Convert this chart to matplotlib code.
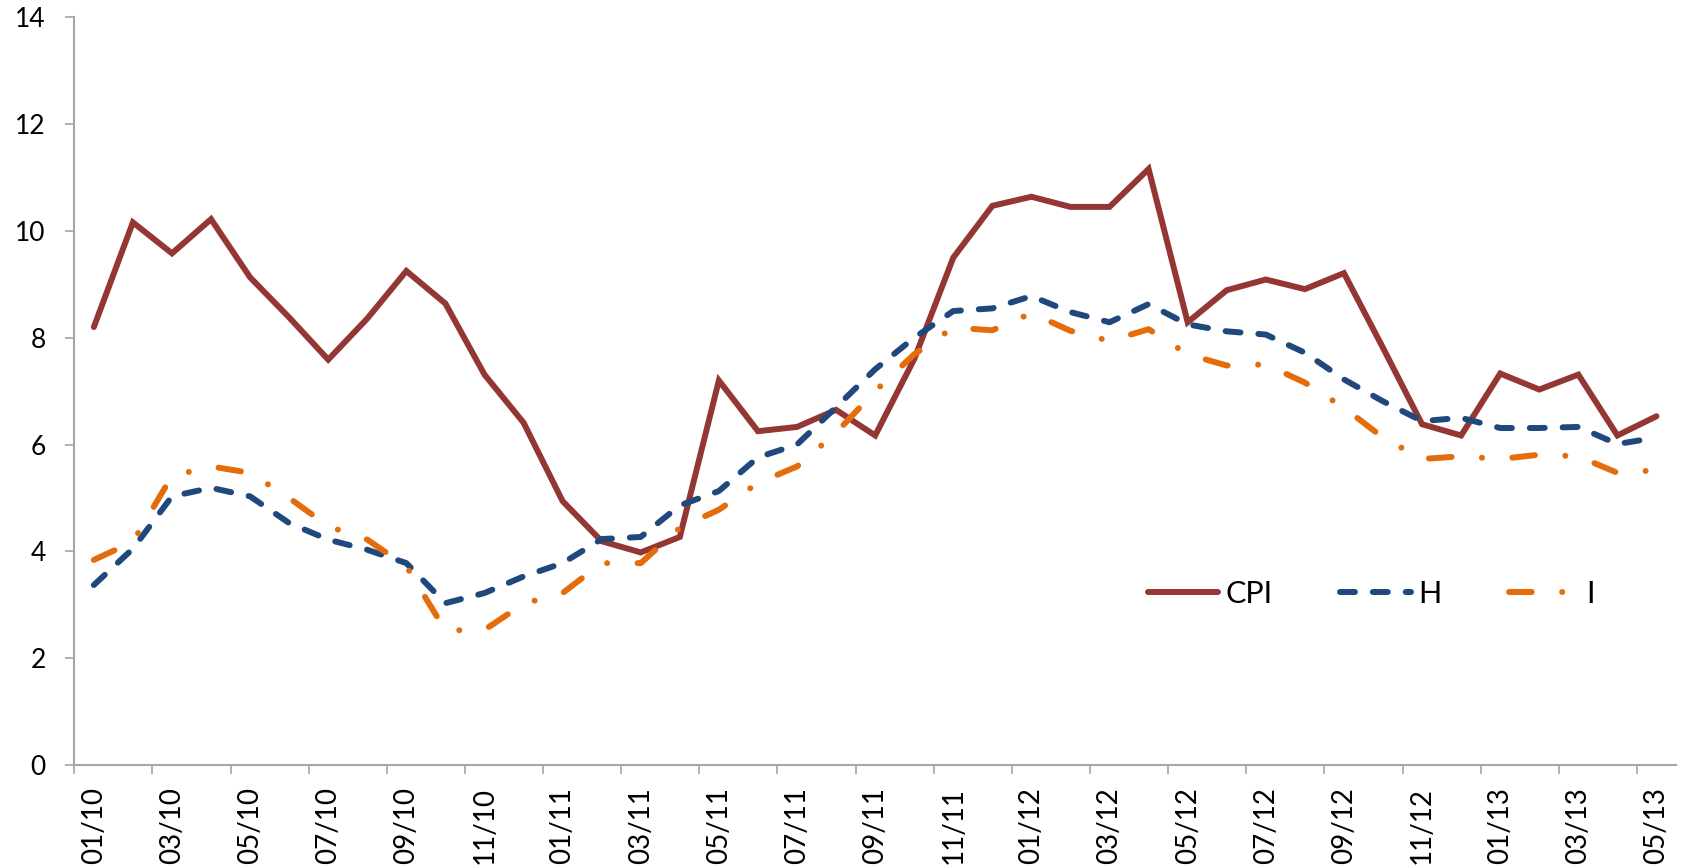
import matplotlib
matplotlib.use("Agg")
import matplotlib.pyplot as plt
import numpy as np

months = ["01/10","02/10","03/10","04/10","05/10","06/10","07/10","08/10","09/10","10/10","11/10","12/10",
          "01/11","02/11","03/11","04/11","05/11","06/11","07/11","08/11","09/11","10/11","11/11","12/11",
          "01/12","02/12","03/12","04/12","05/12","06/12","07/12","08/12","09/12","10/12","11/12","12/12",
          "01/13","02/13","03/13","04/13","05/13"]

cpi = [8.20, 10.16, 9.58, 10.22, 9.13, 8.38, 7.59, 8.36, 9.25, 8.64,
       7.31, 6.41, 4.94, 4.19, 3.98, 4.27, 7.20, 6.25, 6.33, 6.65,
       6.17, 7.60, 9.50, 10.47, 10.64, 10.45, 10.45, 11.16, 8.29, 8.89,
       9.09, 8.91, 9.21, 7.81, 6.38, 6.17, 7.33, 7.03, 7.31, 6.17, 6.53]

h = [3.37, 4.05, 5.03, 5.19, 5.03, 4.53, 4.22, 4.03, 3.78, 3.03,
     3.22, 3.53, 3.78, 4.23, 4.27, 4.86, 5.13, 5.76, 6.00, 6.70,
     7.41, 8.00, 8.50, 8.55, 8.78, 8.48, 8.29, 8.63, 8.25, 8.12,
     8.06, 7.72, 7.22, 6.81, 6.44, 6.50, 6.31, 6.31, 6.33, 6.01, 6.13]

inf = [3.84, 4.18, 5.41, 5.59, 5.47, 5.00, 4.47, 4.22, 3.72, 2.52,
       2.53, 3.02, 3.22, 3.78, 3.78, 4.44, 4.78, 5.28, 5.59, 6.22,
       7.00, 7.69, 8.19, 8.14, 8.46, 8.13, 7.94, 8.16, 7.69, 7.48,
       7.50, 7.16, 6.69, 6.13, 5.73, 5.78, 5.73, 5.81, 5.78, 5.47, 5.52]

series_names = ["CPI", "H", "I"]
yticks = [0, 2, 4, 6, 8, 10, 12, 14]

FONT = ["Lato", "DejaVu Sans"]
plt.rcParams['font.family'] = FONT

fig = plt.figure(figsize=(16.88, 8.67), dpi=100)
ax = fig.add_axes([74.3/1688, 1-765/867, (1676-74.3)/1688, (765-17.3)/867])

x = np.arange(len(months))
lw = 4.3
ax.plot(x, cpi, color="#943634", lw=lw, solid_capstyle="round", solid_joinstyle="miter", label=series_names[0])
ax.plot(x, h, color="#1F497D", lw=lw, dashes=(2.5, 3.0), dash_capstyle="round", label=series_names[1])
ax.plot(x, inf, color="#E46C0A", lw=lw, dashes=(3.8, 5.1, 0.01, 5.1), dash_capstyle="round", label=series_names[2])

ax.set_xlim(-0.5, len(months) - 0.5)
ax.set_ylim(0, 14)

ax.set_yticks(yticks)
ax.set_yticklabels([str(v) for v in yticks])
ax.tick_params(axis="y", length=6.5, width=1.2, color="#A6A6A6", pad=14, labelsize=19)

ax.set_xticks(x[::2])
ax.set_xticklabels(months[::2], rotation=90)
ax.set_xticks(np.arange(-0.5, len(months) - 1, 2), minor=True)
ax.tick_params(axis="x", which="major", length=0, pad=16, labelsize=20)
ax.tick_params(axis="x", which="minor", length=6.5, width=1.2, color="#A6A6A6")

for s in ["top", "right"]:
    ax.spines[s].set_visible(False)
for s in ["left", "bottom"]:
    ax.spines[s].set_color("#A6A6A6")
    ax.spines[s].set_linewidth(1.5)

leg = ax.legend(loc="center left", bbox_to_anchor=(1148/1688, 1-594/867),
                bbox_transform=fig.transFigure, ncol=3, frameon=False,
                fontsize=22, handlelength=2.3, handletextpad=0.25,
                columnspacing=2.2, borderpad=0, borderaxespad=0)

fig.savefig("out.png", dpi=100)
